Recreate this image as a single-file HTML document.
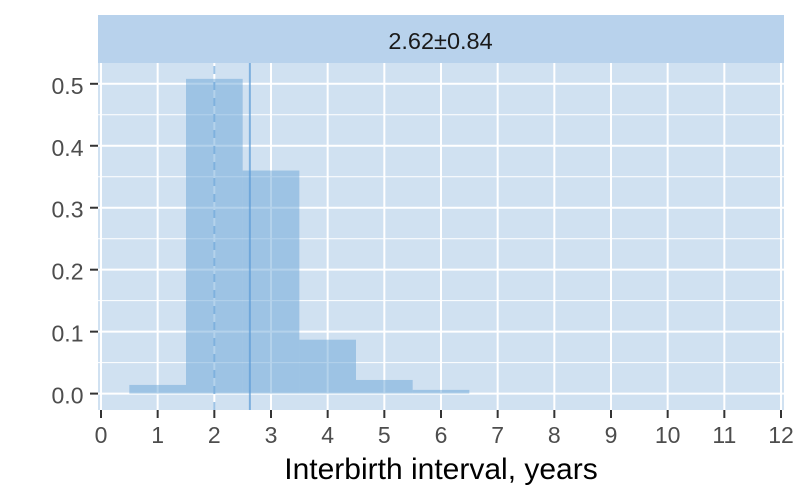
<!DOCTYPE html>
<html>
<head>
<meta charset="utf-8">
<style>
html,body{margin:0;padding:0;background:#fff;width:800px;height:500px;overflow:hidden}
svg{display:block}
text{font-family:"Liberation Sans",Arial,sans-serif}
</style>
</head>
<body>
<svg id="chart" xmlns="http://www.w3.org/2000/svg" width="800" height="500" viewBox="0 0 800 500">
  <rect x="0" y="0" width="800" height="500" fill="#ffffff"/>
  <rect x="98" y="63" width="686" height="347" fill="#d0e1f1"/>
  <g id="grid"></g>
  <g id="bars"></g>
  <g id="refs"></g>
  <rect x="98" y="15" width="686" height="48" fill="#b8d2ec"/>
  <text x="440.5" y="49" font-size="23.5" text-anchor="middle" fill="#1a1a1a">2.62±0.84</text>
  <g id="axes"></g>
  <text x="441" y="479" font-size="30" text-anchor="middle" fill="#000000">Interbirth interval, years</text>
</svg>
<script>
const binStarts = [0.5, 1.5, 2.5, 3.5, 4.5, 5.5];
const binEnds = [1.5, 2.5, 3.5, 4.5, 5.5, 6.5];
const density = [0.014, 0.508, 0.36, 0.087, 0.022, 0.006];
const xTicks = [0, 1, 2, 3, 4, 5, 6, 7, 8, 9, 10, 11, 12];
const yTicks = [0, 0.1, 0.2, 0.3, 0.4, 0.5];
const yMinorTicks = [0.05, 0.15, 0.25, 0.35, 0.45];
const meanValue = 2.62;
const medianValue = 2;

const SVG_NS = 'http://www.w3.org/2000/svg';
const panel = {left: 98, right: 784, top: 63, bottom: 410};
function xScale(v) { return 101 + v * (680 / 12); }
function yScale(v) { return 393.6 - v * 619.6; }
function make(tag, attrs, parent) {
  const el = document.createElementNS(SVG_NS, tag);
  for (const k in attrs) el.setAttribute(k, attrs[k]);
  parent.appendChild(el);
  return el;
}
const grid = document.getElementById('grid');
const bars = document.getElementById('bars');
const refs = document.getElementById('refs');
const axes = document.getElementById('axes');

yMinorTicks.forEach(function (v) {
  const el = make('line', {x1: panel.left, x2: panel.right, y1: yScale(v), y2: yScale(v), stroke: '#ffffff', 'stroke-width': 1}, grid);
  
  
});
yTicks.forEach(function (v) {
  const el = make('line', {x1: panel.left, x2: panel.right, y1: yScale(v), y2: yScale(v), stroke: '#ffffff', 'stroke-width': 2}, grid);
  
  
});
xTicks.forEach(function (v) {
  const el = make('line', {x1: xScale(v), x2: xScale(v), y1: panel.top, y2: panel.bottom, stroke: '#ffffff', 'stroke-width': 2}, grid);
  
  
});

density.forEach(function (v, i) {
  const x0 = xScale(binStarts[i]);
  const x1 = xScale(binEnds[i]);
  const el = make('rect', {x: x0, y: yScale(v), width: x1 - x0, height: yScale(0) - yScale(v), fill: 'rgb(106,165,215)', 'fill-opacity': 0.5}, bars);
  
  
});

const medianLine = make('line', {x1: xScale(medianValue), x2: xScale(medianValue), y1: panel.bottom, y2: panel.top, stroke: 'rgb(91,155,213)', 'stroke-width': 2, 'stroke-opacity': 0.6, 'stroke-dasharray': '8 8'}, refs);


const meanLine = make('line', {x1: xScale(meanValue) + 0.4, x2: xScale(meanValue) + 0.4, y1: panel.bottom, y2: panel.top, stroke: 'rgb(91,155,213)', 'stroke-width': 2, 'stroke-opacity': 0.7}, refs);



xTicks.forEach(function (v) {
  const tick = make('line', {x1: xScale(v), x2: xScale(v), y1: panel.bottom, y2: panel.bottom + 8, stroke: '#333333', 'stroke-width': 2}, axes);
  
  
  const label = make('text', {x: xScale(v), y: 443, 'font-size': 23, 'text-anchor': 'middle', fill: '#4d4d4d'}, axes);
  
  
  label.textContent = String(v);
});
yTicks.forEach(function (v) {
  const tick = make('line', {x1: panel.left - 8, x2: panel.left, y1: yScale(v), y2: yScale(v), stroke: '#333333', 'stroke-width': 2}, axes);
  
  
  const label = make('text', {x: 83.5, y: yScale(v) + 10, 'font-size': 23, 'text-anchor': 'end', fill: '#4d4d4d'}, axes);
  
  
  label.textContent = v.toFixed(1);
});
</script>
</body>
</html>
